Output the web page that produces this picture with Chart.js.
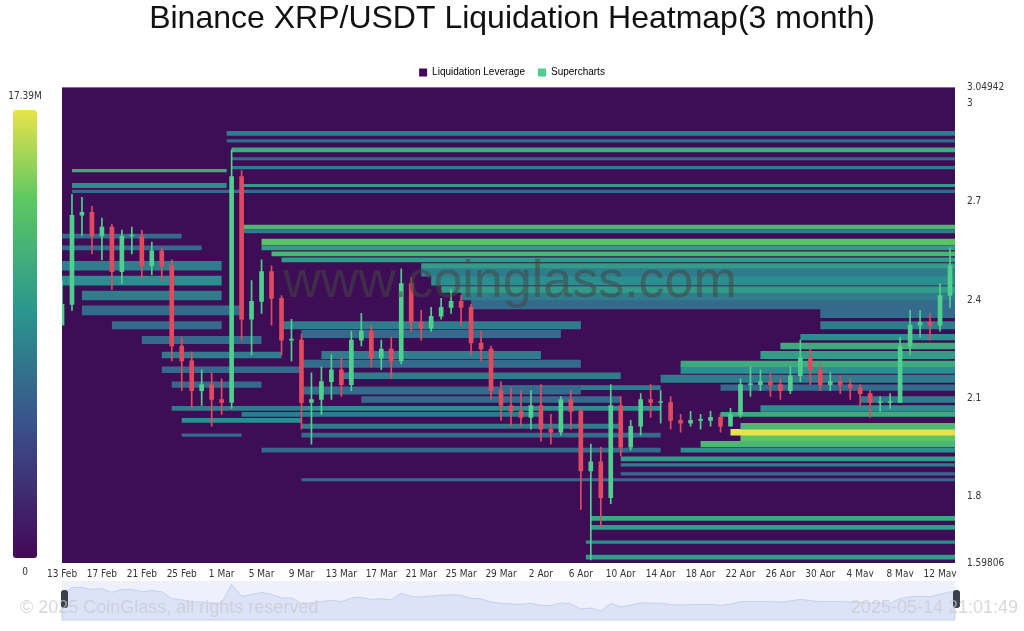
<!DOCTYPE html>
<html><head><meta charset="utf-8">
<script src="https://cdn.jsdelivr.net/npm/chart.js@4.4.0/dist/chart.umd.min.js"></script>
<style>html,body{margin:0;padding:0;background:#fff}#wrap{width:1024px;height:631px}</style>
</head><body><div id="wrap"><canvas id="c" width="1024" height="631"></canvas></div>
<script>
const startDate = new Date(2025,1,13);
const closes = [2.47,2.77,2.78,2.70,2.73,2.58,2.70,2.70,2.60,2.65,2.60,2.33,2.28,2.18,2.20,2.15,2.14,2.90,2.42,2.48,2.58,2.49,2.35,2.35,2.14,2.15,2.21,2.25,2.20,2.35,2.38,2.29,2.32,2.28,2.54,2.41,2.39,2.43,2.46,2.48,2.46,2.34,2.32,2.18,2.13,2.11,2.09,2.13,2.05,2.04,2.15,2.11,1.91,1.94,1.82,2.13,1.99,2.06,2.15,2.14,2.14,2.08,2.07,2.08,2.08,2.09,2.06,2.10,2.20,2.20,2.21,2.20,2.18,2.23,2.29,2.25,2.20,2.21,2.20,2.19,2.17,2.14,2.14,2.14,2.33,2.40,2.41,2.40,2.50,2.60];
const highs  = [2.55,2.84,2.83,2.80,2.76,2.74,2.72,2.73,2.72,2.68,2.66,2.62,2.36,2.31,2.25,2.24,2.22,2.99,2.92,2.55,2.62,2.60,2.50,2.42,2.37,2.24,2.26,2.30,2.29,2.38,2.44,2.40,2.35,2.36,2.59,2.56,2.45,2.46,2.49,2.52,2.50,2.47,2.38,2.33,2.21,2.19,2.18,2.18,2.20,2.10,2.16,2.18,2.12,2.00,1.99,2.20,2.16,2.08,2.17,2.20,2.18,2.16,2.10,2.11,2.10,2.11,2.10,2.12,2.22,2.26,2.25,2.24,2.22,2.26,2.35,2.32,2.27,2.24,2.23,2.22,2.20,2.18,2.16,2.17,2.36,2.45,2.45,2.44,2.54,2.66];
const lows   = [2.43,2.45,2.70,2.64,2.62,2.52,2.54,2.64,2.56,2.57,2.55,2.28,2.18,2.12,2.13,2.06,2.10,2.12,2.35,2.30,2.44,2.40,2.30,2.28,2.05,2.00,2.10,2.15,2.16,2.18,2.33,2.26,2.25,2.22,2.27,2.38,2.35,2.38,2.42,2.44,2.40,2.30,2.28,2.15,2.08,2.06,2.06,2.05,2.01,2.00,2.03,2.05,1.78,1.61,1.72,1.80,1.96,1.98,2.03,2.09,2.07,2.05,2.04,2.06,2.05,2.06,2.04,2.07,2.09,2.16,2.18,2.16,2.15,2.17,2.21,2.20,2.18,2.18,2.17,2.15,2.13,2.09,2.11,2.12,2.14,2.30,2.36,2.35,2.38,2.46];
const yTickLabels = [3.04942,3,2.7,2.4,2.1,1.8,1.59806];
const colorbarMax = "17.39M";
// [startDay, endDay, price, intensity 0..1, thickness]
const bands = [
[16.5,89.5,3.045,0.35,3],[16.5,89.5,3.02,0.3,2],[17,89.5,2.99,0.5,3],[17,89.5,2.96,0.3,2],[17,89.5,2.93,0.35,2],[18,89.5,2.87,0.45,2],
[1,16.5,2.92,0.5,2],[1,16.5,2.87,0.4,3],[1,89.5,2.85,0.3,2],
[18,89.5,2.73,0.55,3],[18,89.5,2.715,0.35,2],[20,89.5,2.68,0.6,4],[20,89.5,2.66,0.45,3],[21,89.5,2.64,0.55,3],[22,89.5,2.62,0.45,3],
[36,89.5,2.60,0.45,3],[36,89.5,2.58,0.35,6],[37,89.5,2.55,0.4,6],[38,89.5,2.52,0.45,4],[40,89.5,2.50,0.35,6],[41,89.5,2.47,0.3,6],
[76,89.5,2.44,0.3,6],[76,89.5,2.40,0.35,5],[74,89.5,2.36,0.4,4],[72,89.5,2.33,0.5,4],[70,89.5,2.30,0.45,5],[62,89.5,2.27,0.5,4],
[62,89.5,2.25,0.4,5],[60,89.5,2.22,0.35,5],[66,89.5,2.19,0.3,4],[80,89.5,2.15,0.35,4],[70,89.5,2.12,0.4,4],[66,89.5,2.10,0.5,3],
[68,89.5,2.06,0.55,4],[67,89.5,2.04,0.8,4],[68,89.5,2.02,0.6,4],[64,89.5,2.00,0.55,4],[62,89.5,1.98,0.4,3],[56,89.5,1.95,0.45,3],
[56,89.5,1.93,0.35,2],[56,89.5,1.90,0.3,2],[53,89.5,1.75,0.5,3],[53,89.5,1.72,0.45,3],[52.5,89.5,1.67,0.4,2],[52.5,89.5,1.62,0.45,3],
[22,52,2.40,0.35,5],[24,50,2.37,0.3,5],[26,48,2.30,0.35,5],[24,52,2.27,0.3,5],[28,56,2.23,0.35,4],[24,52,2.18,0.3,5],
[30,56,2.15,0.3,4],[24,60,2.12,0.4,3],[18,48,2.10,0.35,3],[24,56,2.06,0.35,3],[24,60,2.03,0.3,3],[24,89.5,1.88,0.3,2],
[20,60,1.98,0.3,3],[44,60,2.19,0.35,3],
[0,16,2.60,0.35,6],[0,16,2.55,0.4,6],[2,16,2.50,0.35,6],[2,18,2.45,0.3,6],[5,16,2.40,0.3,5],[8,20,2.35,0.3,5],
[10,22,2.30,0.35,4],[10,24,2.25,0.3,4],[11,20,2.20,0.3,4],[11,24,2.12,0.35,3],[12,24,2.08,0.4,3],[12,18,2.03,0.3,2],
[0,14,2.66,0.3,3],[0,12,2.70,0.3,3]
];
const stops=[[0,[68,8,88]],[0.3,[58,82,139]],[0.55,[42,150,142]],[0.8,[92,200,99]],[1,[232,227,74]]];
function cmap(t){t=Math.min(1,t);for(let i=1;i<stops.length;i++){if(t<=stops[i][0]){const a=stops[i-1],b=stops[i];const f=(t-a[0])/(b[0]-a[0]);const c=a[1].map((v,k)=>Math.round(v+(b[1][k]-v)*f));return `rgb(${c[0]},${c[1]},${c[2]})`;}}return 'rgb(232,227,74)';}
const months=['Jan','Feb','Mar','Apr','May'];
function dayLabel(i){const d=new Date(startDate);d.setDate(d.getDate()+i);return d.getDate()+' '+months[d.getMonth()];}
const datasets=[];
bands.forEach(b=>datasets.push({type:'line',label:'band',data:[{x:b[0],y:b[2]},{x:b[1],y:b[2]}],borderColor:cmap(b[3]*1.3),borderWidth:b[4]*1.6,pointRadius:0,borderCapStyle:'butt',order:5}));
const opens=closes.map((c,i)=>i===0?2.40:closes[i-1]);
const candleColor=closes.map((c,i)=>c>=opens[i]?'#4ed08c':'#e04a5f');
datasets.push({type:'bar',label:'wick',data:closes.map((c,i)=>({x:i,y:[lows[i],highs[i]]})),backgroundColor:candleColor,barThickness:1,order:2,grouped:false});
datasets.push({type:'bar',label:'body',data:closes.map((c,i)=>({x:i,y:[opens[i],c]})),backgroundColor:candleColor,barThickness:4,order:1,grouped:false,minBarLength:1});
const deco={id:'deco',
beforeDatasetsDraw(ch){const {ctx,chartArea:a}=ch;ctx.save();ctx.fillStyle='#3d0e55';ctx.fillRect(a.left,a.top,a.right-a.left,a.bottom-a.top);ctx.restore();},
afterDraw(ch){const {ctx,chartArea:a,scales:{x,y}}=ch;ctx.save();
 const g=ctx.createLinearGradient(0,558,0,110);stops.forEach(s=>g.addColorStop(s[0],`rgb(${s[1].join(',')})`));
 ctx.fillStyle=g;ctx.beginPath();ctx.roundRect(13,110,24,448,3);ctx.fill();
 ctx.fillStyle='#333';ctx.font='10px "Liberation Sans Narrow", "DejaVu Sans Condensed", sans-serif';ctx.textAlign='center';ctx.textBaseline='middle';
 ctx.fillText(colorbarMax,25,96);ctx.fillText('0',25,572);
 ctx.font='52px "Liberation Sans", sans-serif';ctx.fillStyle='rgba(70,70,70,0.55)';ctx.fillText('www.coinglass.com',510,283);
 const nt=581,nb=620;ctx.fillStyle='#eef1fb';ctx.fillRect(a.left,nt,a.right-a.left,nb-nt);
 ctx.beginPath();ctx.moveTo(x.getPixelForValue(0),nb);
 closes.forEach((c,i)=>ctx.lineTo(x.getPixelForValue(i),nb-6-(c-1.7)/(3.0-1.7)*32));
 ctx.lineTo(x.getPixelForValue(89.5),nb-6-(closes[closes.length-1]-1.7)/1.3*32);ctx.lineTo(x.getPixelForValue(89.5),nb);ctx.closePath();
 ctx.fillStyle='#dde3f7';ctx.fill();ctx.strokeStyle='#c5cff0';ctx.lineWidth=1;ctx.stroke();
 ctx.fillStyle='#3a3f4a';ctx.beginPath();ctx.roundRect(61,590,7,18,3);ctx.fill();ctx.beginPath();ctx.roundRect(953,590,7,18,3);ctx.fill();
 ctx.font='18px "Liberation Sans", sans-serif';ctx.fillStyle='rgba(200,200,205,0.7)';ctx.textAlign='left';ctx.fillText('© 2025 CoinGlass, all rights reserved',20,608);
 ctx.textAlign='right';ctx.fillText('2025-05-14 21:01:49',1018,608);
 ctx.restore();}};
new Chart(document.getElementById('c'),{data:{datasets},plugins:[deco],
options:{responsive:false,animation:false,layout:{padding:{left:0,right:0,top:0,bottom:54}},
plugins:{tooltip:{enabled:false},
 title:{display:true,text:'Binance XRP/USDT Liquidation Heatmap(3 month)',color:'#111',font:{size:32,weight:'normal',family:'"Liberation Sans", sans-serif'},padding:{top:0,bottom:16}},
 legend:{display:true,labels:{boxWidth:8,boxHeight:8,font:{size:10,family:'"Liberation Sans", sans-serif'},color:'#333',padding:13,
  generateLabels:()=>[{text:'Liquidation Leverage',fillStyle:'#44085a',strokeStyle:'#44085a',lineWidth:0},{text:'Supercharts',fillStyle:'#4ed08c',strokeStyle:'#4ed08c',lineWidth:0}]}}},
scales:{
 x:{type:'linear',offset:false,min:0,max:89.5,grid:{display:false},border:{display:false},
  afterBuildTicks(s){s.ticks=[];for(let i=0;i<=88;i+=4)s.ticks.push({value:i});},
  ticks:{autoSkip:false,maxRotation:0,color:'#333',font:{size:10,family:'"Liberation Sans Narrow", "DejaVu Sans Condensed", sans-serif'},padding:-3,callback:v=>dayLabel(v)}},
 yl:{type:'linear',position:'left',display:true,grid:{display:false},border:{display:false},ticks:{display:false},afterFit(s){s.width=62;}},
 y:{type:'linear',position:'right',min:1.59806,max:3.04942,grid:{display:false},border:{display:false},
  afterBuildTicks(s){s.ticks=yTickLabels.map(v=>({value:v}));},
  afterFit(s){s.width=69;},
  ticks:{autoSkip:false,color:'#333',font:{size:10,family:'"Liberation Sans Narrow", "DejaVu Sans Condensed", sans-serif'},padding:4,callback:v=>String(v)}}}}});
</script></body></html>
